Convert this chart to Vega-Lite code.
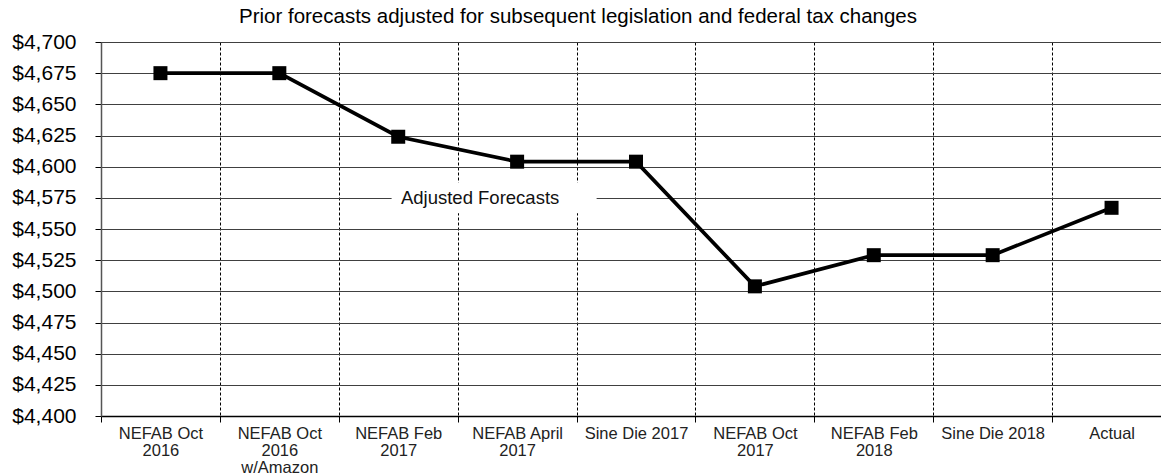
{
  "$schema": "https://vega.github.io/schema/vega-lite/v6.json",
  "autosize": "none",
  "width": 1070,
  "height": 374,
  "padding": {"left": 101, "top": 42, "right": 0, "bottom": 60},
  "background": "white",
  "config": {
    "font": "Liberation Sans",
    "view": {"stroke": null}
  },
  "title": {
    "text": "Prior forecasts adjusted for subsequent legislation and federal tax changes",
    "frame": "group",
    "anchor": "middle",
    "dx": -58,
    "offset": -12,
    "baseline": "alphabetic",
    "fontSize": 20.5,
    "fontWeight": "normal",
    "font": "Liberation Sans",
    "color": "#000000"
  },
  "datasets": {
    "series": [
      {"forecast": "NEFAB Oct\n2016", "revenue": 4675},
      {"forecast": "NEFAB Oct\n2016\nw/Amazon", "revenue": 4675},
      {"forecast": "NEFAB Feb\n2017", "revenue": 4624},
      {"forecast": "NEFAB April\n2017", "revenue": 4604},
      {"forecast": "Sine Die 2017", "revenue": 4604},
      {"forecast": "NEFAB Oct\n2017", "revenue": 4504},
      {"forecast": "NEFAB Feb\n2018", "revenue": 4529},
      {"forecast": "Sine Die 2018", "revenue": 4529},
      {"forecast": "Actual", "revenue": 4567}
    ],
    "note": [
      {"forecast": "NEFAB April\n2017", "revenue": 4575, "label": "Adjusted Forecasts"}
    ]
  },
  "encoding": {
    "x": {
      "field": "forecast",
      "type": "nominal",
      "sort": null,
      "scale": {"paddingInner": 0, "paddingOuter": 0, "domain": ["NEFAB Oct\n2016", "NEFAB Oct\n2016\nw/Amazon", "NEFAB Feb\n2017", "NEFAB April\n2017", "Sine Die 2017", "NEFAB Oct\n2017", "NEFAB Feb\n2018", "Sine Die 2018", "Actual"]},
      "axis": {
        "title": null,
        "labelAngle": 0,
        "labelExpr": "split(datum.label, '\\n')",
        "labelFontSize": 16.5,
        "labelLineHeight": 17,
        "labelColor": "#222222",
        "labelPadding": 3,
        "labelBaseline": "top",
        "tickBand": "extent",
        "ticks": true,
        "tickSize": 6,
        "tickColor": "#000000",
        "domainColor": "#000000",
        "domainWidth": 1.5,
        "grid": true,
        "gridColor": "#000000",
        "gridDash": [3, 2],
        "gridWidth": 1,
        "labelBound": false,
        "labelOverlap": false
      }
    },
    "y": {
      "field": "revenue",
      "type": "quantitative",
      "scale": {"domain": [4400, 4700], "nice": false, "zero": false},
      "axis": {
        "title": null,
        "values": [4400, 4425, 4450, 4475, 4500, 4525, 4550, 4575, 4600, 4625, 4650, 4675, 4700],
        "format": "$,.0f",
        "labelFontSize": 21,
        "labelColor": "#000000",
        "labelPadding": 19,
        "tickSize": 6,
        "tickColor": "#000000",
        "domainColor": "#555555",
        "domainWidth": 1.5,
        "grid": true,
        "gridColor": "#404040",
        "gridWidth": 1.2,
        "gridDash": []
      }
    }
  },
  "layer": [
    {
      "data": {"name": "note"},
      "mark": {
        "type": "point",
        "shape": "M-1,-0.15H1V0.15H-1Z",
        "size": 42025,
        "filled": true,
        "color": "white",
        "opacity": 1,
        "xOffset": -23
      }
    },
    {
      "data": {"name": "note"},
      "mark": {
        "type": "text",
        "fontSize": 18.5,
        "color": "#111111",
        "align": "center",
        "baseline": "middle",
        "dx": -37
      },
      "encoding": {"text": {"field": "label"}}
    },
    {
      "data": {"name": "series"},
      "mark": {"type": "line", "color": "#000000", "strokeWidth": 3.7}
    },
    {
      "data": {"name": "series"},
      "mark": {"type": "point", "shape": "square", "size": 196, "filled": true, "color": "#000000", "opacity": 1}
    }
  ]
}
